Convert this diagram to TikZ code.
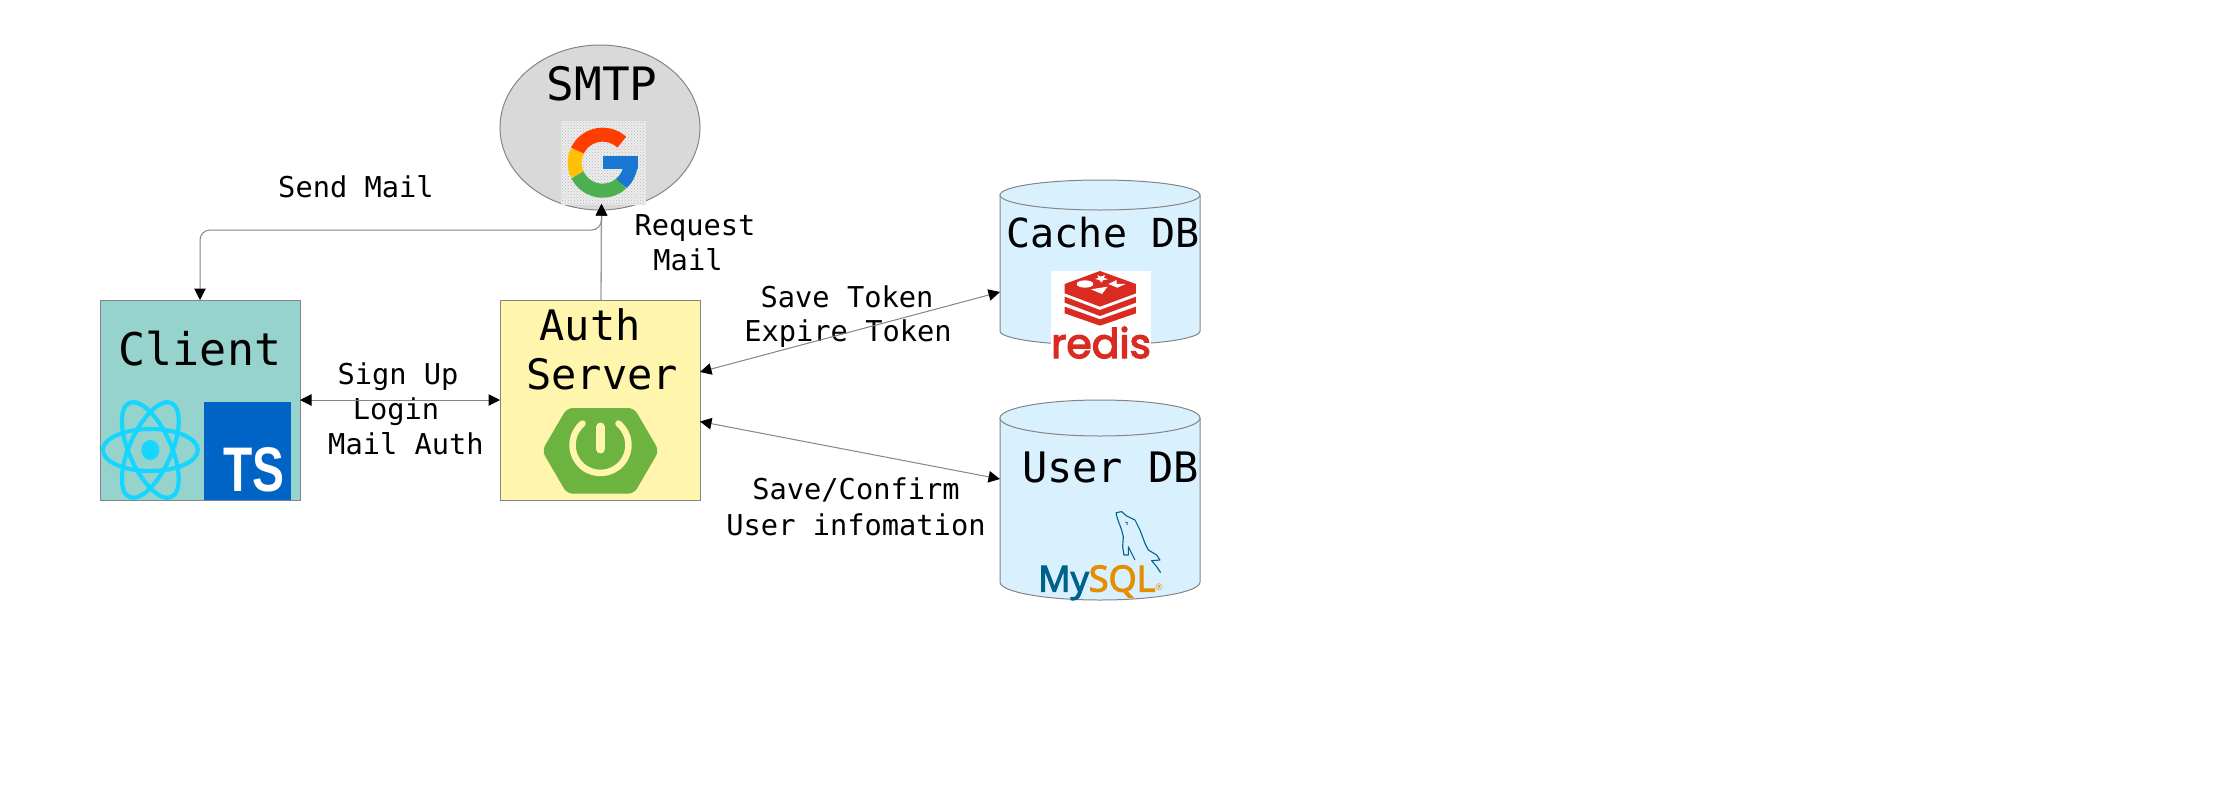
\documentclass[tikz,border=0pt]{standalone}
\usepackage{fontspec}
\setmonofont{DejaVu Sans Mono}
\newfontfamily\popfont{Poppins}[FakeBold=3.2]
\newfontfamily\opfont{Open Sans}[FakeBold=3]
\newfontfamily\regfont{Open Sans}
\newfontfamily\arfont{Liberation Sans}
\usetikzlibrary{arrows.meta,patterns,shapes.geometric}
\definecolor{edgegray}{HTML}{858585}
\definecolor{clientfill}{HTML}{95D3CC}
\definecolor{authfill}{HTML}{FFF5AD}
\definecolor{smtpfill}{HTML}{D9D9D9}
\definecolor{dbfill}{HTML}{D9F0FF}
\definecolor{reactblue}{HTML}{16D6FF}
\definecolor{tsblue}{HTML}{0064C6}
\definecolor{springgreen}{HTML}{6DB33F}
\definecolor{redisred}{HTML}{D92B21}
\definecolor{mysqlblue}{HTML}{00618A}
\definecolor{mysqlorange}{HTML}{E48E00}
\definecolor{gred}{HTML}{FF3D00}
\definecolor{gyellow}{HTML}{FFC107}
\definecolor{ggreen}{HTML}{4CAF50}
\definecolor{gblue}{HTML}{1976D2}
\tikzset{
  boxnode/.style={draw=edgegray,line width=1pt,rectangle,minimum width=200pt,minimum height=200pt,inner sep=0pt,outer sep=0pt},
  dbshape/.style={draw=edgegray,line width=1pt,fill=dbfill},
  bigtext/.style={anchor=base,inner sep=0pt,font=\ttfamily\fontsize{#1}{#1}\selectfont},
  bigtext/.default=43,
  smalltext/.style={anchor=base,inner sep=0pt,font=\ttfamily\fontsize{28.7}{34}\selectfont},
  conn/.style={draw=edgegray,line width=1pt},
  twoway/.style={conn,{Triangle[length=11.5pt,width=11.5pt,black]}-{Triangle[length=11.5pt,width=11.5pt,black]}},
  oneway/.style={conn,-{Triangle[length=11.5pt,width=11.5pt,black]}},
}
\begin{document}
\begin{tikzpicture}[x=1pt,y=-1pt]
\useasboundingbox (0,0) rectangle (2224,793);
\fill[white] (0,0) rectangle (2224,793);

% main shapes
\node[boxnode,fill=clientfill] (client) at (200,400) {};
\node[boxnode,fill=authfill] (auth) at (600,400) {};
\node[draw=edgegray,line width=1pt,fill=smtpfill,ellipse,minimum width=200pt,minimum height=165pt,inner sep=0pt,outer sep=0pt] (smtp) at (600,127.5) {};

% cache DB cylinder
\draw[dbshape] (1000,195) -- (1000,331) arc[start angle=180,end angle=360,x radius=100,y radius=-14] -- (1200,195);
\draw[dbshape] (1100,195) ellipse[x radius=100,y radius=15];
% user DB cylinder
\draw[dbshape] (1000,418) -- (1000,582) arc[start angle=180,end angle=360,x radius=100,y radius=-18] -- (1200,418);
\draw[dbshape] (1100,418) ellipse[x radius=100,y radius=18];

% named ends of connectors
\coordinate (smtpIn) at (601.5,204);
\coordinate (reqOut) at (601,300);
\coordinate (authUp) at (700,372);
\coordinate (authDown) at (700,421.5);
\coordinate (cacheIn) at (1000,292);
\coordinate (userIn) at (1000,479);

% Google tile
\fill[black!7] (560.7,120.7) rectangle (646,205);
\fill[pattern=crosshatch dots,pattern color=black!28] (560.7,120.7) rectangle (646,205);
\begin{scope}[shift={(602.67,162.67)},x=1pt,y=1pt]
  \draw[gred,line width=14pt] (47:28) arc[start angle=47,end angle=155,radius=28];
  \draw[gyellow,line width=14pt] (155:28) arc[start angle=155,end angle=206,radius=28];
  \draw[ggreen,line width=14pt] (206:28) arc[start angle=206,end angle=313,radius=28];
  \draw[gblue,line width=14pt] (312:28) arc[start angle=312,end angle=356,radius=28];
  \fill[gblue] (0,6.67) rectangle (35.3,-6.67);
\end{scope}

% React logo
\begin{scope}[shift={(150.3,450)},x=1pt,y=1pt]
  \draw[reactblue,line width=4.2pt] (0,0) ellipse[x radius=47.5,y radius=21];
  \draw[reactblue,line width=4.2pt,rotate=66] (0,0) ellipse[x radius=51.5,y radius=21];
  \draw[reactblue,line width=4.2pt,rotate=-66] (0,0) ellipse[x radius=51.5,y radius=21];
  \fill[reactblue] (0,0) ellipse[x radius=9,y radius=10];
\end{scope}
% TypeScript logo
\fill[tsblue] (204,402) rectangle (291,499.5);
\node[anchor=base,inner sep=0pt,text=white,font=\arfont\bfseries\fontsize{63}{63}\selectfont,xscale=0.76] (tslogo) at (254,491.7) {TS};

% Spring logo
\fill[springgreen,rounded corners=6pt] (542,450.7) -- (567,408) -- (634,408) -- (659,450.7) -- (634,493.7) -- (567,493.7) -- cycle;
\begin{scope}[shift={(600.5,445)},x=1pt,y=1pt]
  \draw[authfill,line width=6.5pt,line cap=round] (50:28) arc[start angle=50,end angle=-230,radius=28];
  \draw[authfill,line width=9pt,line cap=round] (0,18) -- (0,-4);
\end{scope}

% Redis logo
\fill[white] (1051,271) rectangle (1151,360);
\begin{scope}[shift={(980,160)},x=0.3333pt,y=-0.3333pt]
  \fill[redisred] (360,333) -- (468,372) -- (468,400) -- (360,440) -- (254,400) -- (254,372) -- cycle;
  \fill[redisred] (254,410) -- (360,450) -- (468,410) -- (468,428) -- (360,468) -- (254,428) -- cycle;
  \fill[redisred] (254,440) -- (360,478) -- (468,440) -- (468,460) -- (360,497) -- (254,460) -- cycle;
  \fill[white] (315,372) ellipse[x radius=25,y radius=11];
  \fill[white] (410,372) -- (437,372) -- (412,383) -- (385,372) -- (410,360) -- cycle;
  \fill[white] (333,388) -- (383,380) -- (366,402) -- cycle;
  \fill[white] (352,345) -- (362,350) -- (375,345) -- (372,353) -- (384,358) -- (370,360) -- (364,368) -- (358,360) -- (345,357) -- (356,353) -- cycle;
\end{scope}
\node[anchor=base,inner sep=0pt,text=redisred,font=\popfont\fontsize{41}{41}\selectfont] (redislogo) at (1101,358) {redis};

% MySQL logo
\node[anchor=base west,inner sep=0pt,font=\opfont\fontsize{36}{36}\selectfont] (mysqllogo) at (1038,591.5) {\textcolor{mysqlblue}{My}\textcolor{mysqlorange}{SQL}};
\node[anchor=center,inner sep=0pt,text=mysqlorange,font=\regfont\fontsize{9}{9}\selectfont] (mysqlreg) at (1159,587.5) {®};
\begin{scope}[shift={(980,390)},x=0.3333pt,y=-0.3333pt]
  \draw[mysqlblue,line width=1.1pt,line join=round] (408,368) -- (425,365) -- (440,378) -- (465,390) -- (480,420) -- (495,460) -- (505,480) -- (530,495) -- (540,510) -- (515,512) -- (530,530) -- (542,548);
  \draw[mysqlblue,line width=1.1pt,line join=round] (408,368) -- (412,385) -- (425,420) -- (430,440) -- (428,470) -- (432,495) -- (445,495) -- (445,470) -- (465,510);
  \draw[mysqlblue,line width=0.8pt] (436,396) -- (442,398) -- (441,405);
\end{scope}

% titles
\node[bigtext=45] (tclient) at (200,365) {Client};
\node[bigtext=42] (tauth) at (590,340) {Auth};
\node[bigtext=42] (tserver) at (602,389.3) {Server};
\node[bigtext=46] (tsmtp) at (602,100) {SMTP};
\node[bigtext=40] (tcache) at (1103,247) {Cache DB};
\node[bigtext=42] (tuser) at (1110.5,482) {User DB};

% labels
\node[smalltext] (lsend) at (356,197.7) {Send Mail};
\node[smalltext] (lreq) at (695,235) {Request};
\node[smalltext] (lmail) at (688,270) {Mail};
\node[smalltext] (lsign) at (398,384) {Sign Up};
\node[smalltext] (llogin) at (396,419) {Login};
\node[smalltext] (lauth) at (406,454) {Mail Auth};
\node[smalltext] (lsave) at (847,307.5) {Save Token};
\node[smalltext] (lexp) at (848,341.5) {Expire Token};
\node[smalltext] (lconf) at (856,499.5) {Save/Confirm};
\node[smalltext] (luser) at (856,535) {User infomation};

% connectors
\draw[oneway,draw=edgegray!80,line width=1.3pt] (reqOut) -- (smtpIn);
\draw[twoway,rounded corners=10pt] (smtpIn) -- (smtpIn |- 0,230) -- (client.north |- 0,230) -- (client.north);
\draw[twoway] (client.east) -- (auth.west);
\draw[twoway] (authUp) -- (cacheIn);
\draw[twoway] (authDown) -- (userIn);
\end{tikzpicture}
\end{document}
